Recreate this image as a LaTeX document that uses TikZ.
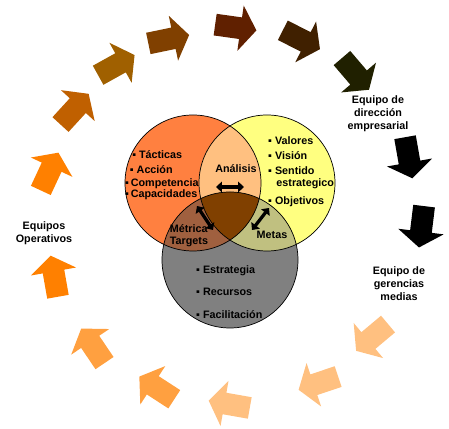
\documentclass[tikz,border=0pt]{standalone}
\usepackage{fontspec}
\setmainfont{Liberation Sans}
\usepackage{tikz}
\usetikzlibrary{shapes.arrows, arrows.meta, positioning}

\definecolor{cOrA}{HTML}{FF8000}
\definecolor{cOrB}{HTML}{C06000}
\definecolor{cOrC}{HTML}{A06000}
\definecolor{cBrA}{HTML}{804000}
\definecolor{cBrB}{HTML}{602000}
\definecolor{cBrC}{HTML}{402000}
\definecolor{cBrD}{HTML}{202000}
\definecolor{cPeA}{HTML}{FFC080}
\definecolor{cPeB}{HTML}{FFA040}
\definecolor{vOrange}{HTML}{FF8040}
\definecolor{vYellow}{HTML}{FFFF80}
\definecolor{vGray}{HTML}{808080}
\definecolor{vPeach}{HTML}{FFC080}
\definecolor{vRust}{HTML}{A0603F}
\definecolor{vOlive}{HTML}{C0C080}
\definecolor{vCore}{HTML}{804000}

\begin{document}
\begin{tikzpicture}[x=0.03cm, y=0.03cm,
	blk/.style={single arrow, draw=none, inner xsep=0pt, inner ysep=0.32cm,
		minimum height=1.25cm, single arrow head extend=0.36cm,
		single arrow tip angle=110},
	lbl/.style={font=\fontsize{9.2}{11}\selectfont\bfseries, align=center, inner sep=0pt},
	lst/.style={font=\fontsize{9.2}{10}\selectfont\bfseries, align=left, inner sep=0pt},
	dbl/.style={{Triangle[width=9pt,length=5pt]}-{Triangle[width=9pt,length=5pt]}, line width=2.8pt}]
	\useasboundingbox (0,0) rectangle (449,429);
	% ring of block arrows
	\node [blk, fill=cOrA, rotate=65] (a1) at (48,254) {};
	\node [blk, fill=cOrB, rotate=47.5] (a2) at (72,317) {};
	\node [blk, fill=cOrC, rotate=29] (a3) at (113,362) {};
	\node [blk, fill=cBrA, rotate=11.7] (a4) at (165,389) {};
	\node [blk, fill=cBrB, rotate=-8] (a5) at (232,402) {};
	\node [blk, fill=cBrC, rotate=-27] (a6) at (298,391) {};
	\node [blk, fill=cBrD, rotate=-49.5] (a7) at (353,358) {};
	\node [blk, fill=black, rotate=-80] (a8) at (408,275) {};
	\node [blk, fill=black, rotate=-97] (a9) at (422,206) {};
	\node [blk, fill=cPeA, rotate=-140] (a10) at (375,94) {};
	\node [blk, fill=cPeA, rotate=-161.5] (a11) at (322,47) {};
	\node [blk, fill=cPeA, rotate=170] (a12) at (233,24) {};
	\node [blk, fill=cPeB, rotate=147] (a13) at (160,39) {};
	\node [blk, fill=cPeB, rotate=124] (a14) at (95,80) {};
	\node [blk, fill=cOrA, rotate=100] (a15) at (55,149) {};
	% venn
	\coordinate (O) at (193,246);
	\coordinate (Y) at (267,246);
	\coordinate (G) at (230,169);
	\fill [vOrange] (O) circle (68);
	\fill [vYellow] (Y) circle (68);
	\fill [vGray] (G) circle (68);
	\begin{scope}
		\clip (O) circle (68);
		\fill [vPeach] (Y) circle (68);
		\fill [vRust] (G) circle (68);
	\end{scope}
	\begin{scope}
		\clip (Y) circle (68);
		\fill [vOlive] (G) circle (68);
	\end{scope}
	\begin{scope}
		\clip (O) circle (68);
		\clip (Y) circle (68);
		\fill [vCore] (G) circle (68);
	\end{scope}
	\draw [line width=0.6pt] (O) circle (68) (Y) circle (68) (G) circle (68);
	% texts
	\node [lst, anchor=north west] (tac) at (125,279) {\hspace{6pt}▪ Tácticas\\[3pt]
		\hspace{4pt}▪ Acción\\[1pt]
		▪\,Competencia\\
		▪\,Capacidades};
	\node [lst, anchor=north west] (val) at (268,293) {▪ Valores\\[3pt]
		▪ Visión\\[3pt]
		▪ Sentido\\
		\hspace{7pt}estrategico\\[6pt]
		▪ Objetivos};
	\node [lst, anchor=north west] (est) at (196,164) {▪ Estrategia\\[9pt]
		▪ Recursos\\[10pt]
		▪ Facilitación};
	\node [lbl] (ana) at (236,260) {Análisis};
	\node [lst] (met) at (189,193) {Métrica\\Targets};
	\node [lbl] (mts) at (272,194) {Metas};
	\node [lbl] (dir) at (378,315) {Equipo de\\dirección\\empresarial};
	\node [lbl] (ger) at (399,145) {Equipo de\\gerencias\\medias};
	\node [lbl] (ope) at (44,196) {Equipos\\Operativos};
	% double arrows
	\coordinate (p1) at (216,242);
	\coordinate (p2) at (244,242);
	\coordinate (q1) at (197,223);
	\coordinate (q2) at (213,199);
	\coordinate (r1) at (269,221);
	\coordinate (r2) at (252,199);
	\draw [dbl] (p1) -- (p2);
	\draw [dbl] (q1) -- (q2);
	\draw [dbl] (r1) -- (r2);
\end{tikzpicture}
\end{document}
